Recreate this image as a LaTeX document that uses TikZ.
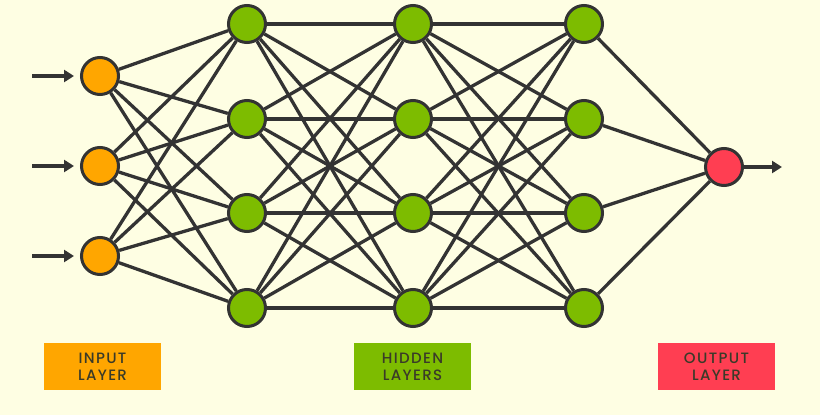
\documentclass[tikz,border=0pt]{standalone}
\usepackage{fontspec}
\setmainfont{Poppins}[UprightFont=* Medium, LetterSpace=9]
\usetikzlibrary{arrows.meta}
\definecolor{bg}{HTML}{FEFEE3}
\definecolor{ink}{HTML}{333333}
\definecolor{inorange}{HTML}{FFA600}
\definecolor{hidgreen}{HTML}{7DBC00}
\definecolor{outred}{HTML}{FF3E52}
\definecolor{labink}{HTML}{3A3A28}
\tikzset{
  neuron/.style={circle, draw=ink, line width=3pt, minimum size=37pt, inner sep=0pt},
  inneuron/.style={neuron, fill=inorange},
  hidneuron/.style={neuron, fill=hidgreen},
  outneuron/.style={neuron, fill=outred},
  link/.style={draw=ink, line width=3.3pt},
  flow/.style={draw=ink, line width=4.5pt, -{Triangle[length=10pt,width=12pt]}},
  layerlabel/.style={minimum width=117pt, minimum height=47pt, inner sep=0pt, align=center,
    text=labink, font=\fontsize{15pt}{17pt}\selectfont}
}
\begin{document}
\begin{tikzpicture}[x=1pt,y=-1pt]
\fill[bg] (0,0) rectangle (820,415);
\useasboundingbox (0,0) rectangle (820,415);
% input
\foreach \i/\yy in {1/76,2/166,3/256} {\node[inneuron] (i\i) at (100,\yy) {};}
% hidden
\foreach \l/\xx in {1/247,2/413,3/584} {
  \foreach \j/\yy in {1/24,2/119,3/213,4/308} {\node[hidneuron] (h\l\j) at (\xx,\yy) {};}
}
% output
\node[outneuron] (o) at (724,167) {};
% edges
\foreach \i in {1,2,3} {\foreach \j in {1,...,4} {\draw[link] (i\i) -- (h1\j);}}
\foreach \j in {1,...,4} {\foreach \k in {1,...,4} {
  \draw[link] (h1\j) -- (h2\k);
  \draw[link] (h2\j) -- (h3\k);
}}
\foreach \j in {1,...,4} {\draw[link] (h3\j) -- (o);}
% arrows
\foreach \i/\yy in {1/76,2/166,3/256} {
  \coordinate (a\i) at (32,\yy);
  \draw[flow] (a\i) -- ([xshift=-6pt]i\i.west);
}
\coordinate (oend) at (782,167);
\draw[flow] (o.east) -- (oend);
% labels
\node[layerlabel, fill=inorange] (linput) at (102.5,366.5) {INPUT\\LAYER};
\node[layerlabel, fill=hidgreen] (lhidden) at (412.5,366.5) {HIDDEN\\LAYERS};
\node[layerlabel, fill=outred] (loutput) at (716.5,366.5) {OUTPUT\\LAYER};
\end{tikzpicture}
\end{document}
